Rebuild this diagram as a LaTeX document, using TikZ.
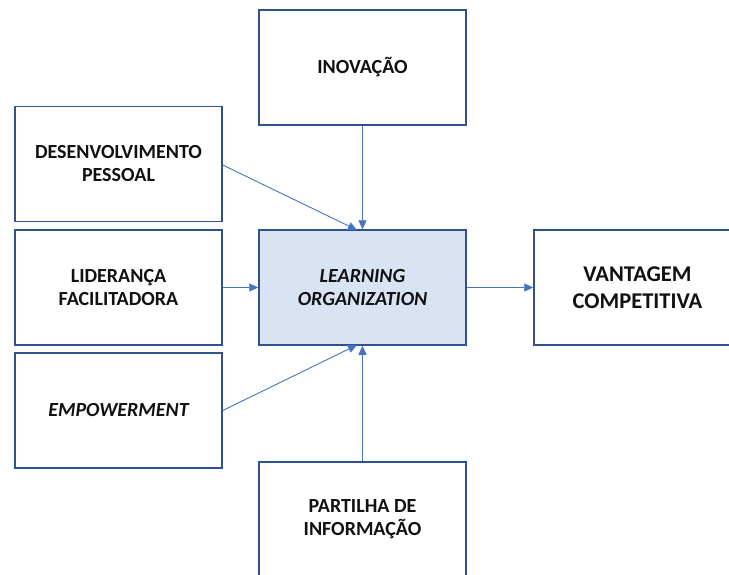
\documentclass[tikz,border=0pt]{standalone}
\usepackage{fontspec}
\setmainfont{Carlito}
\usetikzlibrary{arrows.meta}
\definecolor{bord}{HTML}{2F528F}
\definecolor{connc}{HTML}{4472C4}
\definecolor{lofill}{HTML}{DAE3F3}
\definecolor{txt}{HTML}{111111}
\begin{document}
\begin{tikzpicture}[x=1pt,y=-1pt,
  box/.style={draw=bord, line width=1.5pt, fill=white, inner sep=0pt, align=center,
    minimum width=207pt, minimum height=115pt, text=txt,
    font=\fontsize{20}{23}\selectfont\bfseries},
  bigbox/.style={box, font=\fontsize{22.5}{27.5}\selectfont\bfseries},
  arr/.style={draw=connc, line width=0.9pt, -{Triangle[length=9pt,width=8pt]}}]
\useasboundingbox (0,0) rectangle (729,574);
\clip (0,0) rectangle (729,574);
\node[box] (ino) at (362.5,67.5) {INOVAÇÃO};
\node[box] (des) at (118.5,164) {DESENVOLVIMENTO\\PESSOAL};
\node[box] (lid) at (118.5,287.5) {LIDERANÇA\\FACILITADORA};
\node[box] (emp) at (118.5,410.5) {\itshape EMPOWERMENT};
\node[box, fill=lofill] (lo) at (362.5,287.5) {\itshape LEARNING\\\itshape ORGANIZATION};
\node[bigbox] (van) at (637.5,287.5) {VANTAGEM\\COMPETITIVA};
\node[box] (par) at (362.5,519.5) {PARTILHA DE\\INFORMAÇÃO};
\coordinate (lotop) at (357,230);
\coordinate (lobot) at (357,345);
\draw[arr] (ino.south) -- (lo.north);
\draw[arr] (des.east |- 0,165) -- (lotop);
\draw[arr] (lid.east) -- (lo.west);
\draw[arr] (emp.east) -- (lobot);
\draw[arr] (par.north) -- (lo.south);
\draw[arr] (lo.east) -- (van.west);
\end{tikzpicture}
\end{document}
